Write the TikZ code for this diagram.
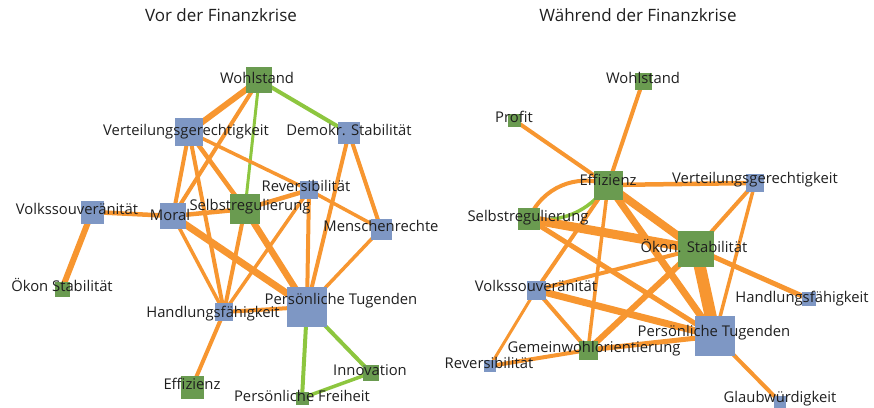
\documentclass[tikz,border=0pt]{standalone}
\usepackage{fontspec}
\setmainfont{Open Sans}
\usepackage{tikz}
\usetikzlibrary{backgrounds}
\definecolor{kante}{RGB}{247,150,48}
\definecolor{kantegr}{RGB}{141,198,63}
\definecolor{knotbl}{RGB}{126,151,196}
\definecolor{knotgr}{RGB}{106,155,80}

\begin{document}
\begin{tikzpicture}[x=1pt,y=-1pt,
  sq/.style={draw=none,inner sep=0pt,minimum size=#1},
  bl/.style={sq=#1,fill=knotbl},
  gr/.style={sq=#1,fill=knotgr},
  lab/.style={inner sep=0pt,text height=0.72em,text depth=0pt,text=black!88,font=\fontsize{14.8}{16}\selectfont},
  titel/.style={lab,font=\fontsize{17}{19}\selectfont},
  ok/.style={draw=kante,line width=#1},
  gk/.style={draw=kantegr,line width=#1}]
\useasboundingbox (0,0) rectangle (874,407);

\node[titel] (t1) at (221,18) {Vor der Finanzkrise};
\node[titel] (t2) at (638,18) {Während der Finanzkrise};

% vor der Finanzkrise
\node[gr=26pt] (L-wohl) at (259,80) {};
\node[bl=28pt] (L-vg) at (189,132) {};
\node[bl=22pt] (L-ds) at (349,133) {};
\node[bl=18pt] (L-rv) at (309,190) {};
\node[gr=30pt] (L-sr) at (245,209) {};
\node[bl=26pt] (L-mo) at (173,216) {};
\node[bl=21pt] (L-mr) at (381,229) {};
\node[bl=40pt] (L-pt) at (307,307) {};
\node[bl=18pt] (L-hf) at (224,312) {};
\node[bl=23pt] (L-vs) at (92,212) {};
\node[gr=15pt] (L-os) at (62,289) {};
\node[gr=23pt] (L-ef) at (192,387) {};
\node[gr=16pt] (L-in) at (371,373) {};
\node[gr=13pt] (L-pf) at (302,398) {};

% waehrend der Finanzkrise
\node[gr=17pt] (R-wohl) at (643,81) {};
\node[gr=13pt] (R-prof) at (514,120) {};
\node[gr=29pt] (R-ef) at (608,185) {};
\node[bl=18pt] (R-vg) at (755,183) {};
\node[gr=22pt] (R-sr) at (529,219) {};
\node[gr=36pt] (R-os) at (696,249) {};
\node[bl=19pt] (R-vs) at (536,290) {};
\node[bl=14pt] (R-hf) at (809,299) {};
\node[bl=40pt] (R-pt) at (715,336) {};
\node[gr=19pt] (R-gw) at (588,350) {};
\node[bl=12pt] (R-rv) at (490,366) {};
\node[bl=12pt] (R-gl) at (780,402) {};

\begin{pgfonlayer}{background}
\draw[ok=6] (L-wohl.center) -- (L-vg.center);
\draw[ok=4] (L-wohl.center) -- (L-mo.center);
\draw[gk=3] (L-wohl.center) -- (L-sr.center);
\draw[gk=4] (L-wohl.center) -- (L-ds.center);
\draw[ok=4] (L-vg.center) -- (L-mo.center);
\draw[ok=4] (L-vg.center) -- (L-hf.center);
\draw[ok=4.5] (L-vg.center) -- (L-sr.center);
\draw[ok=3.5] (L-vg.center) -- (L-rv.center);
\draw[ok=4.5] (L-vs.center) -- (L-mo.center);
\draw[ok=6] (L-vs.center) -- (L-os.center);
\draw[ok=4.5] (L-mo.center) -- (L-sr.center);
\draw[ok=3.5] (L-mo.center) -- (L-hf.center);
\draw[ok=7] (L-mo.center) -- (L-pt.center);
\draw[ok=4.5] (L-sr.center) -- (L-rv.center);
\draw[ok=4] (L-sr.center) -- (L-hf.center);
\draw[ok=6.5] (L-sr.center) -- (L-pt.center);
\draw[ok=4] (L-rv.center) -- (L-pt.center);
\draw[ok=3.5] (L-rv.center) -- (L-mr.center);
\draw[ok=3.5] (L-rv.center) -- (L-hf.center);
\draw[ok=4] (L-ds.center) -- (L-mr.center);
\draw[ok=4] (L-ds.center) -- (L-pt.center);
\draw[ok=3.5] (L-mr.center) -- (L-pt.center);
\draw[ok=4] (L-hf.center) -- (L-pt.center);
\draw[ok=4] (L-hf.center) -- (L-ef.center);
\draw[gk=4] (L-pt.center) -- (L-pf.center);
\draw[gk=4] (L-pt.center) -- (L-in.center);
\draw[gk=3.5] (L-in.center) -- (L-pf.center);

\draw[ok=4] (R-wohl.center) -- (R-ef.center);
\draw[ok=4] (R-prof.center) -- (R-ef.center);
\draw[ok=4.5] (R-ef.center) -- (R-vg.center);
\draw[ok=4] (R-sr.center) to[bend left=45] (R-ef.center);
\draw[gk=3.5] (R-sr.center) to[bend right=30] (R-ef.center);
\draw[ok=8] (R-ef.center) -- (R-os.center);
\draw[ok=7] (R-ef.center) -- (R-pt.center);
\draw[ok=4] (R-ef.center) -- (R-vs.center);
\draw[ok=3.5] (R-ef.center) -- (R-gw.center);
\draw[ok=9] (R-sr.center) -- (R-os.center);
\draw[ok=5] (R-sr.center) -- (R-pt.center);
\draw[ok=4] (R-vs.center) -- (R-os.center);
\draw[ok=7] (R-vs.center) -- (R-pt.center);
\draw[ok=4] (R-vs.center) -- (R-gw.center);
\draw[ok=3] (R-vs.center) -- (R-rv.center);
\draw[ok=4] (R-rv.center) -- (R-gw.center);
\draw[ok=5] (R-gw.center) -- (R-pt.center);
\draw[ok=6] (R-gw.center) -- (R-os.center);
\draw[ok=12] (R-os.center) -- (R-pt.center);
\draw[ok=4] (R-os.center) -- (R-vg.center);
\draw[ok=5] (R-os.center) -- (R-hf.center);
\draw[ok=3.5] (R-vg.center) -- (R-pt.center);
\draw[ok=4] (R-pt.center) -- (R-gl.center);
\end{pgfonlayer}

% Beschriftungen
\node[lab] (L-wohl-t) at (257,80) {Wohlstand};
\node[lab] (L-vg-t) at (186,132) {Verteilungsgerechtigkeit};
\node[lab] (L-ds-t) at (349,132) {Demokr. Stabilität};
\node[lab] (L-rv-t) at (306,188) {Reversibilität};
\node[lab] (L-sr-t) at (250,207) {Selbstregulierung};
\node[lab] (L-mo-t) at (170,217) {Moral};
\node[lab] (L-mr-t) at (381,228) {Menschenrechte};
\node[lab] (L-pt-t) at (341,301) {Persönliche Tugenden};
\node[lab] (L-hf-t) at (213,314) {Handlungsfähigkeit};
\node[lab] (L-vs-t) at (77,211) {Volkssouveränität};
\node[lab] (L-os-t) at (62,288) {Ökon Stabilität};
\node[lab] (L-ef-t) at (192,386) {Effizienz};
\node[lab] (L-in-t) at (370,372) {Innovation};
\node[lab] (L-pf-t) at (302,398) {Persönliche Freiheit};

\node[lab] (R-wohl-t) at (643,80) {Wohlstand};
\node[lab] (R-prof-t) at (514,119) {Profit};
\node[lab] (R-ef-t) at (608,182) {Effizienz};
\node[lab] (R-vg-t) at (755,180) {Verteilungsgerechtigkeit};
\node[lab] (R-sr-t) at (528,218) {Selbstregulierung};
\node[lab] (R-os-t) at (694,249) {Ökon. Stabilität};
\node[lab] (R-vs-t) at (536,288) {Volkssouveränität};
\node[lab] (R-hf-t) at (802,299) {Handlungsfähigkeit};
\node[lab] (R-pt-t) at (714,333) {Persönliche Tugenden};
\node[lab] (R-gw-t) at (594,349) {Gemeinwohlorientierung};
\node[lab] (R-rv-t) at (489,365) {Reversibilität};
\node[lab] (R-gl-t) at (780,399) {Glaubwürdigkeit};
\end{tikzpicture}
\end{document}
